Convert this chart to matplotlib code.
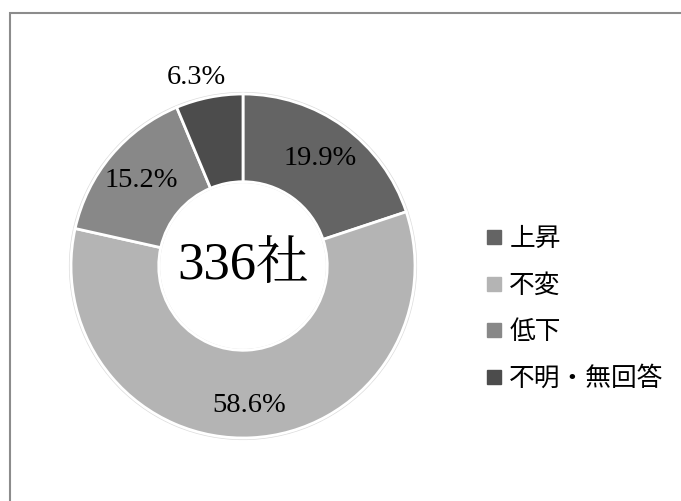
import numpy as np
import matplotlib.pyplot as plt
from matplotlib.patches import Rectangle
from matplotlib.lines import Line2D

# 回答区分と割合(%)
labels = ['上昇', '不変', '低下', '不明・無回答']
shares = [19.9, 58.6, 15.2, 6.3]
colors = ['#646464', '#b4b4b4', '#888888', '#4c4c4c']
total_label = '336社'

serif = ['Liberation Serif', 'Noto Serif CJK JP', 'Noto Sans CJK JP']
sans = ['Noto Sans CJK JP', 'DejaVu Sans']

fig = plt.figure(figsize=(6.81, 5.01), dpi=100)
fig.patch.set_facecolor('white')

# 外枠(右端・下端は画像外)
fig.patches.append(Rectangle((10 / 681, -0.1), 1.2, (501 - 13) / 501 + 0.1,
                             transform=fig.transFigure, fill=False,
                             edgecolor='#8c8c8c', linewidth=1.5))

ax = fig.add_axes([71 / 681, 63 / 501, 344 / 681, 344 / 501])

# うっすらとした影
ax.pie([1], radius=1.012, colors=['#dcdcdc'], startangle=90,
       wedgeprops=dict(width=0.53, linewidth=0))

wedges, _ = ax.pie(shares, colors=colors, startangle=90, counterclock=False,
                   radius=1.0,
                   wedgeprops=dict(width=0.51, edgecolor='white', linewidth=2))

ax.set_xlim(-1.0, 1.0)
ax.set_ylim(-1.0, 1.0)
ax.set_aspect('equal')
ax.axis('off')

for w, v in zip(wedges, shares):
    mid = np.deg2rad((w.theta1 + w.theta2) / 2)
    r = 0.77 if v > 10 else 1.12
    x, y = r * np.cos(mid), r * np.sin(mid)
    if v < 10:
        x -= 0.05
    if v > 50:
        y -= 0.04
    ax.text(x, y, f'{v:.1f}%', ha='center', va='center', fontsize=20.5,
            family=serif, color='black')

ax.text(0, 0, total_label, ha='center', va='center', fontsize=38,
        family=serif, color='black')

handles = [Line2D([], [], marker='s', linestyle='none', markersize=10,
                  markerfacecolor=c, markeredgecolor=c) for c in colors]
leg = fig.legend(handles, labels, loc='upper left',
                 bbox_to_anchor=(458 / 681, 1 - 203 / 501),
                 frameon=False, handletextpad=0.1, labelspacing=0.8,
                 handlelength=1.0, prop={'family': sans, 'size': 18.5})

fig.savefig('out.png', dpi=100)
